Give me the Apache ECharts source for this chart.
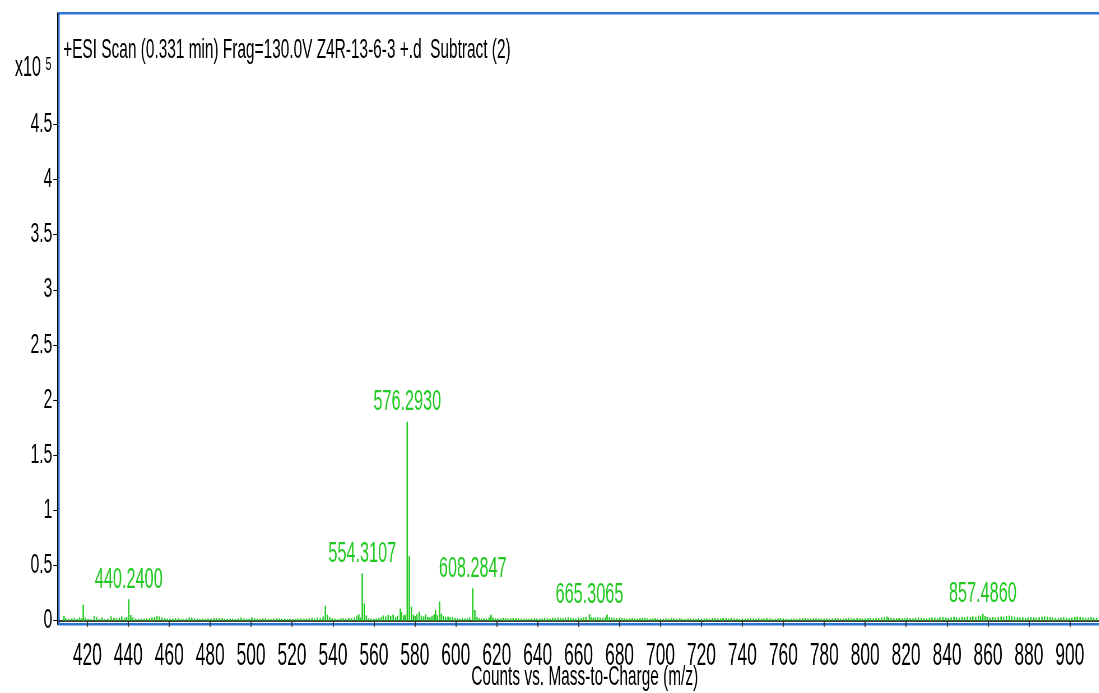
<!DOCTYPE html>
<html>
<head>
<meta charset="utf-8">
<script src="https://cdn.jsdelivr.net/npm/echarts@6/dist/echarts.min.js"></script>
<style>
html,body{margin:0;padding:0;overflow:hidden;background:#fff;width:1099px;height:693px;}
#c{position:absolute;left:0;top:0;height:693px;transform-origin:0 0;}
</style>
</head>
<body>
<div id="c"></div>
<script>
// ---- data (m/z, counts) ----
const mz = [
408.6,409.5,411.0,412.4,413.6,415.0,416.2,417.2,418.0,419.0,420.3,421.6,423.4,424.6,426.0,427.2,428.4,430.0,431.6,433.0,
434.2,435.6,436.8,438.2,439.2,440.2400,441.2,442.2,443.6,445.0,446.4,447.8,449.0,450.4,451.6,452.8,454.0,455.2,456.4,457.8,
459.0,460.4,461.8,463.0,464.4,465.8,467.0,468.4,469.8,471.0,472.4,473.8,475.0,476.4,477.8,479.0,480.4,481.8,483.0,484.4,
485.8,487.0,488.4,489.8,491.0,492.4,493.8,495.0,496.4,497.8,499.0,500.4,501.8,503.0,504.4,505.8,507.0,508.4,509.8,511.0,
512.4,513.8,515.0,516.4,517.8,519.0,520.4,521.8,523.0,524.4,525.8,527.0,528.4,529.8,531.0,532.4,533.8,535.2,536.3,537.3,
538.4,539.6,541.0,542.4,543.8,545.0,546.4,547.8,549.0,550.4,551.6,552.6,553.4,554.3107,555.31,556.3,557.4,558.6,560.0,561.2,
562.4,563.6,564.6,565.8,567.0,568.2,569.4,570.6,571.6,572.9,573.5,574.5,575.3,576.2930,577.3,578.3,579.3,580.1,581.0,582.1,
583.2,584.3,585.3,586.3,587.4,588.4,589.4,590.1,591.0,592.1,593.0,594.0,595.0,596.2,597.2,598.4,599.6,600.8,602.0,603.2,
604.4,605.6,606.8,608.2847,609.3,610.3,611.4,612.6,613.8,615.0,616.2,617.2,618.2,619.4,620.6,622.0,623.2,624.4,625.6,626.8,
628.0,629.4,630.6,632.0,633.2,634.4,635.8,637.0,638.4,639.6,641.0,642.2,643.4,644.8,646.0,647.4,648.6,650.0,651.2,652.4,
653.6,655.0,656.2,657.4,658.6,660.0,661.2,662.4,663.6,665.3065,666.3,667.2,668.2,669.4,670.6,671.8,673.0,673.9,675.0,676.2,
677.4,678.6,680.0,681.2,682.4,683.6,685.0,686.2,687.4,688.6,690.0,691.2,692.4,693.6,695.0,696.2,697.4,698.6,700.0,701.4,
702.8,704.0,705.4,706.6,708.0,709.4,710.6,712.0,713.4,714.6,716.0,717.4,718.6,720.0,721.4,722.6,724.0,725.4,726.6,728.0,
729.4,730.6,732.0,733.4,734.6,736.0,737.4,738.6,740.0,741.4,742.6,744.0,745.4,746.6,748.0,749.4,750.6,752.0,753.4,754.6,
756.0,757.4,758.6,760.0,761.4,762.6,764.0,765.4,766.6,768.0,769.4,770.6,772.0,773.4,774.6,776.0,777.4,778.6,780.0,781.4,
782.6,784.0,785.4,786.6,788.0,789.4,790.6,792.0,793.4,794.6,796.0,797.4,798.6,800.0,801.4,802.6,804.0,805.4,806.6,808.0,
809.4,810.6,811.4,812.6,814.0,815.4,816.6,818.0,819.4,820.6,822.0,823.4,824.6,826.0,827.4,828.6,830.0,831.4,832.6,834.0,
835.4,836.6,838.0,839.4,840.6,842.0,843.4,844.6,846.0,847.4,848.6,850.0,851.4,852.6,854.0,855.4,856.4,857.4860,858.6,859.6,
861.0,862.4,863.6,865.0,866.4,867.6,869.0,870.4,871.6,873.0,874.4,875.6,877.0,878.4,879.6,881.0,882.4,883.6,885.0,886.4,
887.6,889.0,890.4,891.6,893.0,894.4,895.6,897.0,898.4,899.6,901.0,902.4,903.6,905.0,906.4,907.6,909.0,910.4,911.6,913.0,
914.4
];
const counts = [
4500,2200,1600,1900,2600,1700,3000,2200,14500,2800,1900,1600,4200,3200,1800,3000,1600,1900,4000,2600,
2200,2800,3800,2400,3400,19500,5200,3000,1900,1700,2000,1800,2200,2400,2800,3400,4400,3800,3000,2400,
2000,1900,1700,2200,2400,1800,1600,2000,3000,2600,2200,1800,1600,1900,1700,2000,1800,2200,2400,2600,
2200,1900,1700,2000,1800,1600,2200,2800,2100,1800,1600,3000,2200,1900,1700,2000,2200,1800,1600,1900,
2400,2100,1800,2000,1700,1900,1600,1800,2200,2000,1700,1900,2400,2800,2200,3000,2600,3800,13500,5400,
3200,2200,1800,1600,2000,2200,1900,2600,2200,3000,4600,5800,2800,43000,15800,4800,2200,1900,1700,2000,
2400,3400,4800,3800,5200,4400,5600,3200,4600,11000,8000,4800,5600,180400,58500,12700,5400,4200,6000,8200,
4600,3800,5600,3400,3000,4400,5800,9800,5000,17400,6400,4400,3200,3800,3000,3400,2600,2200,2000,2400,
2000,2200,2800,29400,9700,3400,2400,2000,2200,1900,2800,5400,3000,2200,2000,2200,2600,2400,2000,2200,
2400,2600,2200,2000,1800,2000,1700,2200,2400,2000,1800,2000,2600,2200,1900,2800,2400,3000,2600,2200,
2800,3200,2600,2400,2000,2800,2400,3000,3400,6000,3200,2600,3000,3200,2800,2600,3200,5600,3200,2800,
2600,2400,2800,2400,2200,2000,2200,2600,2000,1900,2200,2600,2800,2200,1900,2200,2400,1800,2000,1700,
2200,1900,2600,2000,1800,2200,1900,1600,2000,2200,1800,1700,2400,2000,1800,2200,1900,2400,2600,2200,
2000,2800,2400,2000,2600,2200,1900,1700,2000,1800,2200,2400,2000,1800,2200,1900,2100,2400,2200,1900,
1700,2000,2400,2200,1800,1600,1900,2100,1800,2000,2200,2400,2000,1900,2200,2400,2100,1800,2000,2200,
1900,2100,2400,2200,1900,2000,2300,2600,2200,2000,2400,2200,2000,2200,2400,2600,2200,2800,2400,3000,
3200,3800,3000,2600,2400,2200,2600,2400,2200,2800,2400,2200,2600,3000,2800,2400,2200,2600,3000,2800,
2400,3200,3400,2800,2600,3000,3600,3200,2800,3400,3000,3800,3400,4000,3600,4600,4000,6200,4400,3400,
3000,3400,2800,3200,3800,3400,4200,4600,4000,3600,3200,2800,3200,2600,3000,3400,3000,2600,3200,3600,
4000,3800,3400,3000,2600,2400,2800,3200,2800,2400,3000,3400,3800,3400,3000,2600,2800,3200,2800,2400,
2600
];
const labeledPeaks = [440.2400, 554.3107, 576.2930, 608.2847, 665.3065, 857.4860];
const xTicks = [420,440,460,480,500,520,540,560,580,600,620,640,660,680,700,720,740,760,780,800,820,840,860,880,900];
const yTicks = [0,50000,100000,150000,200000,250000,300000,350000,400000,450000];
const titleText = '+ESI Scan (0.331 min) Frag=130.0V Z4R-13-6-3 +.d  Subtract (2)';
const xName = 'Counts vs. Mass-to-Charge (m/z)';

// ---- layout (drawn wide, then condensed horizontally like the original narrow font) ----
const S = 0.56, K = 1 / S;
const W = 1099 * K;
const el = document.getElementById('c');
el.style.width = W + 'px';
el.style.transform = 'scaleX(' + S + ')';

const FONT = 'Liberation Sans, Arial, sans-serif';
const GREEN = '#22c922';

const data = mz.map((m, i) => {
  const item = { value: [m, counts[i]] };
  if (labeledPeaks.some(p => Math.abs(p - m) < 1e-6)) {
    item.label = {
      show: true, position: 'top', distance: 5,
      formatter: () => m.toFixed(4),
      color: GREEN, fontSize: 29, fontFamily: FONT
    };
  }
  return item;
});

const chart = echarts.init(el, null, { renderer: 'canvas', width: W, height: 693 });
chart.setOption({
  animation: false,
  backgroundColor: '#fff',
  title: [
    { text: titleText, left: 62 * K - 3, top: 31,
      textStyle: { fontFamily: FONT, fontSize: 27.5, fontWeight: 'normal', color: '#000' } },
    { text: '{a|x10}{b|5}', left: 12 * K, top: 48,
      textStyle: { fontFamily: FONT, fontWeight: 'normal', color: '#000',
        rich: {
          a: { fontFamily: FONT, fontSize: 29, color: '#000' },
          b: { fontFamily: FONT, fontSize: 19, color: '#000', verticalAlign: 'top', padding: [2, 0, 0, 8] }
        } } }
  ],
  grid: {
    left: 59 * K, top: 13.3, width: 1043 * K, height: 611,
    containLabel: false, outerBoundsMode: 'none',
    show: true, borderColor: '#2a76d6', borderWidth: 2.5, backgroundColor: '#fff'
  },
  xAxis: {
    type: 'value', min: 406.17, max: 915.98, offset: 4.7,
    axisLine: { show: true, lineStyle: { color: '#000', width: 1.5 } },
    axisTick: { show: true, length: 6, customValues: xTicks, lineStyle: { color: '#333', width: 2 } },
    axisLabel: { customValues: xTicks, margin: 12, fontSize: 31, fontFamily: FONT, color: '#000' },
    splitLine: { show: false },
    name: xName, nameLocation: 'middle', nameGap: 34, nameMoveOverlap: false,
    nameTextStyle: { fontSize: 27.5, fontFamily: FONT, color: '#000', padding: [0, 0, 0, 14] }
  },
  yAxis: {
    type: 'value', min: -3260, max: 550600, offset: 1.7 * K,
    axisLine: { show: true, lineStyle: { color: '#000', width: 2 } },
    axisTick: { show: true, length: 4 * K, customValues: yTicks, lineStyle: { color: '#000', width: 1 } },
    axisLabel: { customValues: yTicks, margin: 9, fontSize: 28, fontFamily: FONT, color: '#000',
      formatter: v => String(v / 100000) },
    splitLine: { show: false }
  },
  series: [{
    type: 'bar', data: data, barWidth: 2.6, barGap: '-100%',
    itemStyle: { color: GREEN }, emphasis: { disabled: true }, silent: true
  }]
});
</script>
</body>
</html>
